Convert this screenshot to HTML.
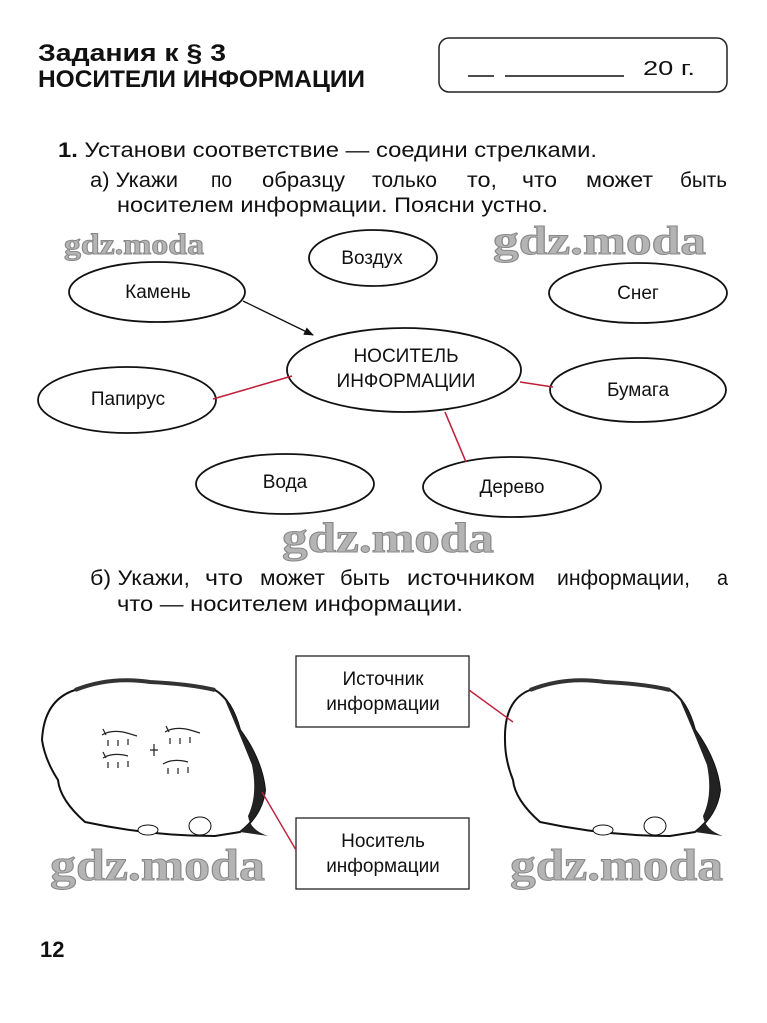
<!DOCTYPE html>
<html><head><meta charset="utf-8"><style>
html,body{margin:0;padding:0;background:#fff;width:767px;height:1023px;overflow:hidden}
svg{display:block}
text{font-family:"Liberation Sans",sans-serif;fill:#111}
.wm{font-family:"Liberation Serif",serif;font-weight:bold;fill:#b4b4b4;stroke:#888;stroke-width:1}
</style></head><body>
<svg width="767" height="1023" viewBox="0 0 767 1023" xmlns="http://www.w3.org/2000/svg">
<defs><marker id="ar" markerWidth="10" markerHeight="8" refX="9" refY="4" orient="auto" markerUnits="userSpaceOnUse"><path d="M0,0 L10,4 L0,8 Z" fill="#111"/></marker></defs>
<text x="38" y="61" font-size="24" font-weight="bold" textLength="188" lengthAdjust="spacingAndGlyphs">Задания  к  §  3</text>
<text x="38" y="87" font-size="24" font-weight="bold" textLength="327" lengthAdjust="spacingAndGlyphs">НОСИТЕЛИ  ИНФОРМАЦИИ</text>
<rect x="439" y="38" width="288" height="54" rx="10" fill="none" stroke="#222" stroke-width="1.5"/>
<line x1="468" y1="76" x2="494" y2="76" stroke="#111" stroke-width="1.5"/>
<line x1="505" y1="76" x2="624" y2="76" stroke="#111" stroke-width="1.5"/>
<text x="643" y="75" font-size="20" textLength="52" lengthAdjust="spacingAndGlyphs">20 г.</text>
<g font-size="21">
<text x="58" y="157" textLength="539" lengthAdjust="spacingAndGlyphs"><tspan font-weight="bold">1.</tspan> Установи  соответствие  —  соедини  стрелками.</text>
<text x="90" y="187" textLength="88" lengthAdjust="spacingAndGlyphs">а) Укажи</text>
<text x="211" y="187" textLength="21" lengthAdjust="spacingAndGlyphs">по</text>
<text x="262" y="187" textLength="83" lengthAdjust="spacingAndGlyphs">образцу</text>
<text x="372" y="187" textLength="65" lengthAdjust="spacingAndGlyphs">только</text>
<text x="467" y="187" textLength="30" lengthAdjust="spacingAndGlyphs">то,</text>
<text x="522" y="187" textLength="35" lengthAdjust="spacingAndGlyphs">что</text>
<text x="586" y="187" textLength="67" lengthAdjust="spacingAndGlyphs">может</text>
<text x="680" y="187" textLength="47" lengthAdjust="spacingAndGlyphs">быть</text>
<text x="117" y="212" textLength="431" lengthAdjust="spacingAndGlyphs">носителем  информации.  Поясни  устно.</text>
<text x="90" y="585" textLength="100" lengthAdjust="spacingAndGlyphs">б) Укажи,</text>
<text x="205" y="585" textLength="38" lengthAdjust="spacingAndGlyphs">что</text>
<text x="260" y="585" textLength="65" lengthAdjust="spacingAndGlyphs">может</text>
<text x="340" y="585" textLength="50" lengthAdjust="spacingAndGlyphs">быть</text>
<text x="407" y="585" textLength="128" lengthAdjust="spacingAndGlyphs">источником</text>
<text x="557" y="585" textLength="133" lengthAdjust="spacingAndGlyphs">информации,</text>
<text x="717" y="585" textLength="11" lengthAdjust="spacingAndGlyphs">а</text>
<text x="117" y="611" textLength="346" lengthAdjust="spacingAndGlyphs">что  —  носителем  информации.</text>
</g>
<text class="wm" x="64" y="254" font-size="30" textLength="140" lengthAdjust="spacingAndGlyphs">gdz.moda</text>
<text class="wm" x="493" y="254" font-size="40" textLength="213" lengthAdjust="spacingAndGlyphs">gdz.moda</text>
<g fill="#fff" stroke="#111" stroke-width="1.8">
<ellipse cx="373" cy="258" rx="64" ry="28"/>
<ellipse cx="157" cy="292" rx="88" ry="30"/>
<ellipse cx="638" cy="293" rx="89" ry="30"/>
<ellipse cx="404" cy="370" rx="117" ry="42"/>
<ellipse cx="127" cy="400" rx="89" ry="33"/>
<ellipse cx="638" cy="390" rx="88" ry="32"/>
<ellipse cx="285" cy="484" rx="89" ry="30"/>
<ellipse cx="512" cy="487" rx="89" ry="30"/>
</g>
<line x1="243" y1="301" x2="313" y2="335" stroke="#111" stroke-width="1.3" marker-end="url(#ar)"/>
<g stroke="#c0203a" stroke-width="1.6">
<line x1="213" y1="399" x2="292" y2="376"/>
<line x1="520" y1="382" x2="553" y2="387"/>
<line x1="445" y1="412" x2="466" y2="462"/>
</g>
<g font-size="19" text-anchor="middle">
<text x="372" y="264">Воздух</text>
<text x="158" y="298">Камень</text>
<text x="638" y="299">Снег</text>
<text x="406" y="362">НОСИТЕЛЬ</text>
<text x="406" y="387">ИНФОРМАЦИИ</text>
<text x="128" y="405">Папирус</text>
<text x="638" y="396">Бумага</text>
<text x="285" y="488">Вода</text>
<text x="512" y="493">Дерево</text>
</g>
<text class="wm" x="282" y="552" font-size="42" textLength="212" lengthAdjust="spacingAndGlyphs">gdz.moda</text>
<g fill="#fff" stroke="#222" stroke-width="1.3">
<rect x="296" y="656" width="173" height="71"/>
<rect x="296" y="818" width="173" height="71"/>
</g>
<g font-size="19" text-anchor="middle">
<text x="383" y="685">Источник</text>
<text x="383" y="710">информации</text>
<text x="383" y="847">Носитель</text>
<text x="383" y="872">информации</text>
</g>
<g>
<path d="M75,690 Q110,676 150,682 Q190,684 215,690 Q232,700 240,730 Q262,760 265,790 Q262,815 240,832 L215,836 Q150,836 85,822 Q60,800 58,780 Q45,760 42,740 Q44,700 75,690 Z" fill="#fff" stroke="#111" stroke-width="2"/>
<path d="M215,690 Q232,700 240,730 Q262,760 265,790 Q262,815 240,832 L268,836 Q250,830 248,816 Q258,795 252,765 Q240,735 225,700 Z" fill="#222"/>
<path d="M75,690 Q110,676 150,682 Q190,684 215,690" fill="none" stroke="#333" stroke-width="4"/>
<g fill="none" stroke="#222" stroke-width="1.2">
<path d="M102,735 q10,-6 25,-2 l10,3 M108,740 l0,6 M118,740 l0,6 M128,739 l0,6 M103,729 l3,6"/>
<path d="M165,732 q10,-6 25,-2 l10,3 M170,738 l0,6 M180,738 l0,6 M190,737 l0,6 M166,726 l3,6"/>
<path d="M103,758 q10,-6 25,-2 M108,762 l0,6 M118,762 l0,6 M128,761 l0,6 M103,752 l3,6"/>
<path d="M163,764 q10,-6 25,-2 M168,768 l0,6 M178,768 l0,6 M188,767 l0,6"/>
<path d="M150,750 l8,0 M154,744 l0,12"/>
</g>
<ellipse cx="148" cy="830" rx="10" ry="5" fill="#fff" stroke="#111"/>
<ellipse cx="200" cy="826" rx="11" ry="9" fill="#fff" stroke="#111"/>
</g>
<g>
<path d="M530,690 Q565,676 605,682 Q645,684 670,690 Q687,700 695,730 Q717,760 720,790 Q717,815 695,832 L670,836 Q605,836 540,822 Q515,800 513,780 Q505,760 505,740 Q504,700 530,690 Z" fill="#fff" stroke="#111" stroke-width="2"/>
<path d="M670,690 Q687,700 695,730 Q717,760 720,790 Q717,815 695,832 L723,836 Q705,830 703,816 Q713,795 707,765 Q695,735 680,700 Z" fill="#222"/>
<path d="M530,690 Q565,676 605,682 Q645,684 670,690" fill="none" stroke="#333" stroke-width="4"/>
<ellipse cx="603" cy="830" rx="10" ry="5" fill="#fff" stroke="#111"/>
<ellipse cx="655" cy="826" rx="11" ry="9" fill="#fff" stroke="#111"/>
</g>
<g stroke="#c0203a" stroke-width="1.4">
<line x1="469" y1="690" x2="513" y2="722"/>
<line x1="262" y1="792" x2="296" y2="850"/>
</g>
<text class="wm" x="50" y="880" font-size="44" textLength="215" lengthAdjust="spacingAndGlyphs">gdz.moda</text>
<text class="wm" x="510" y="880" font-size="44" textLength="213" lengthAdjust="spacingAndGlyphs">gdz.moda</text>
<text x="40" y="957" font-size="22" font-weight="bold">12</text>
</svg>
</body></html>
